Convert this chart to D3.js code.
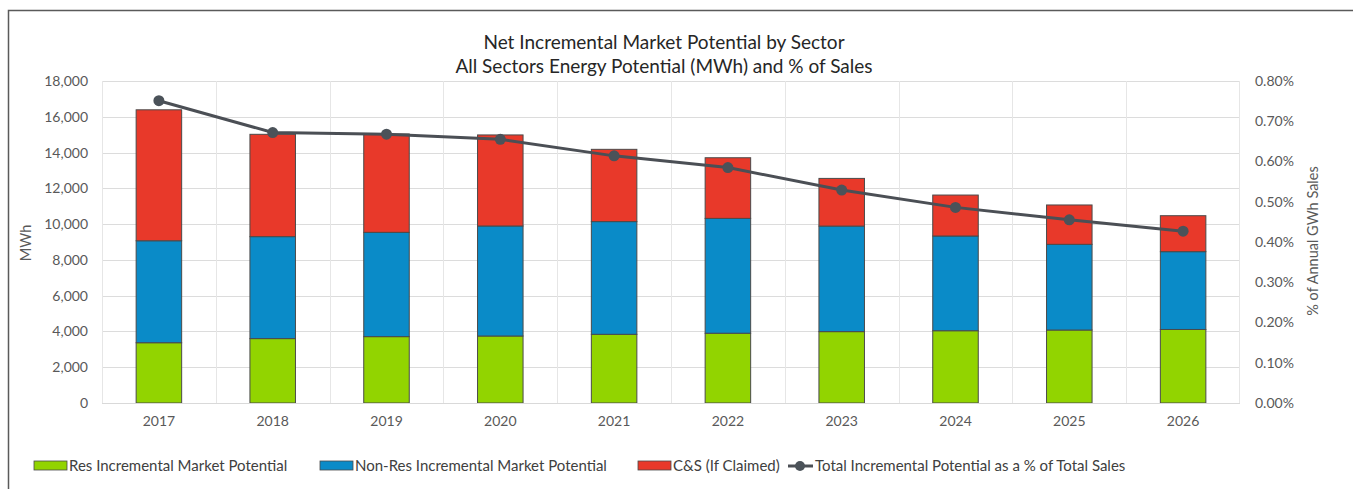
<!DOCTYPE html>
<html>
<head>
<meta charset="utf-8">
<script src="https://cdn.jsdelivr.net/npm/d3@7"></script>
<style>
  body { margin: 0; background: #fff; }
  svg text { font-family: Lato, "Open Sans", sans-serif; }
</style>
</head>
<body>
<div class="chart"></div>
<script>
// data
var years = ["2017", "2018", "2019", "2020", "2021", "2022", "2023", "2024", "2025", "2026"];
var resPotential = [3370, 3600, 3710, 3745, 3840, 3900, 3990, 4040, 4080, 4110];
var nonResPotential = [5700, 5700, 5830, 6150, 6300, 6420, 5900, 5295, 4790, 4350];
var csPotential = [7320, 5720, 5500, 5090, 4040, 3390, 2665, 2290, 2200, 2010];
var pctOfSales = [0.751, 0.672, 0.668, 0.655, 0.614, 0.585, 0.529, 0.486, 0.455, 0.427];
var leftTicks = [0, 2000, 4000, 6000, 8000, 10000, 12000, 14000, 16000, 18000];
var rightTicks = [0, 0.1, 0.2, 0.3, 0.4, 0.5, 0.6, 0.7, 0.8];
var seriesNames = ["Res Incremental Market Potential", "Non-Res Incremental Market Potential", "C&S (If Claimed)"];
var lineName = "Total Incremental Potential as a % of Total Sales";

var W = 1353, H = 489;
var margin = {top: 81, left: 102, right: 113, bottom: 86};
var width = W - margin.left - margin.right;
var height = H - margin.top - margin.bottom;
var colors = ["#92d400", "#0a8bc8", "#e8392a"];
var textGray = "#595959";

var svg = d3.select(".chart").append("svg")
    .attr("width", W)
    .attr("height", H);

// outer frame (clipped by the window on right and bottom)
svg.append("rect")
  .attr("x", 8.5).attr("y", 10.5)
  .attr("width", W + 20).attr("height", H + 20)
  .style("fill", "none")
  .style("stroke", "#5a5a5a")
  .style("stroke-width", 1.5);

var g = svg.append("g")
    .attr("transform", "translate(" + margin.left + "," + margin.top + ")");

var x = d3.scaleBand().domain(years).range([0, width]).paddingInner(0.6).paddingOuter(0.3);
var xBound = d3.scaleBand().domain(years).range([0, width]);
var y = d3.scaleLinear().domain([0, 18000]).range([height, 0]);
var y2 = d3.scaleLinear().domain([0, 0.8]).range([height, 0]);

// grid
g.append("g").selectAll("line").data(leftTicks).join("line")
  .attr("x1", 0).attr("x2", width)
  .attr("y1", d => Math.round(y(d)) + 0.5).attr("y2", d => Math.round(y(d)) + 0.5)
  .style("stroke", "#dcdcdc");
g.append("g").selectAll("line").data(years).join("line")
  .attr("x1", d => Math.round(xBound(d)) + 0.5).attr("x2", d => Math.round(xBound(d)) + 0.5)
  .attr("y1", 0).attr("y2", height)
  .style("stroke", "#e6e6e6");
g.append("line")
  .attr("x1", width - 0.5).attr("x2", width - 0.5)
  .attr("y1", 0).attr("y2", height)
  .style("stroke", "#e6e6e6");

// stacked bars
var rows = years.map((yr, i) => ({year: yr, res: resPotential[i], nonres: nonResPotential[i], cs: csPotential[i]}));
var stack = d3.stack().keys(["res", "nonres", "cs"])(rows);

g.append("g").selectAll("g").data(stack).join("g")
    .style("fill", (d, i) => colors[i])
  .selectAll("rect").data(d => d).join("rect")
    .attr("x", d => x(d.data.year))
    .attr("y", d => y(d[1]))
    .attr("width", x.bandwidth())
    .attr("height", d => y(d[0]) - y(d[1]))
    .style("stroke", "#4a4a4a")
    .style("stroke-width", 1);

// line on the secondary axis
var line = d3.line()
  .x((d, i) => x(years[i]) + x.bandwidth() / 2)
  .y(d => y2(d));

g.append("path")
  .attr("d", line(pctOfSales))
  .style("fill", "none")
  .style("stroke", "#4b4f55")
  .style("stroke-width", 3);

g.append("g").selectAll("circle").data(pctOfSales).join("circle")
  .attr("cx", (d, i) => x(years[i]) + x.bandwidth() / 2)
  .attr("cy", d => y2(d))
  .attr("r", 5.5)
  .style("fill", "#4b5259");

// axes
var axisLeft = g.append("g")
  .call(d3.axisLeft(y).tickValues(leftTicks).tickSize(0).tickPadding(14).tickFormat(d3.format(",")));
var axisRight = g.append("g")
  .attr("transform", "translate(" + width + ",0)")
  .call(d3.axisRight(y2).tickValues(rightTicks).tickSize(0).tickPadding(15).tickFormat(d => d.toFixed(2) + "%"));
var axisBottom = g.append("g")
  .attr("transform", "translate(0," + height + ")")
  .call(d3.axisBottom(x).tickSize(0).tickPadding(13));

[axisLeft, axisRight, axisBottom].forEach(a => {
  a.select(".domain").remove();
  a.selectAll("text").style("font-size", "14px").style("fill", textGray);
});
g.append("line")
  .attr("x1", 0).attr("x2", width)
  .attr("y1", height + 0.5).attr("y2", height + 0.5)
  .style("stroke", "#d9d9d9");

// axis titles
svg.append("text")
  .attr("transform", "translate(31," + (margin.top + height / 2 + 1) + ") rotate(-90)")
  .attr("text-anchor", "middle")
  .style("font-size", "14.5px")
  .style("fill", textGray)
  .text("MWh");

svg.append("text")
  .attr("transform", "translate(1318," + (margin.top + height / 2 - 1) + ") rotate(-90)")
  .attr("text-anchor", "middle")
  .style("font-size", "14.5px")
  .style("fill", textGray)
  .text("% of Annual GWh Sales");

// title
var title = svg.append("text")
  .attr("text-anchor", "middle")
  .style("font-size", "19px")
  .style("fill", "#262626");
title.append("tspan").attr("x", 664).attr("y", 49).text("Net Incremental Market Potential by Sector");
title.append("tspan").attr("x", 664).attr("y", 73).text("All Sectors Energy Potential (MWh) and % of Sales");

// legend
var legendY = 466;
var legendX = [34, 320, 638];
var legend = svg.append("g");
seriesNames.forEach((name, i) => {
  legend.append("rect")
    .attr("x", legendX[i]).attr("y", legendY - 5)
    .attr("width", 33).attr("height", 9)
    .style("fill", colors[i])
    .style("stroke", "#4a4a4a")
    .style("stroke-width", 0.8);
  legend.append("text")
    .attr("x", legendX[i] + 35).attr("y", legendY + 5)
    .style("font-size", "15px")
    .style("fill", "#404040")
    .text(name);
});
legend.append("line")
  .attr("x1", 788).attr("x2", 813)
  .attr("y1", legendY).attr("y2", legendY)
  .style("stroke", "#4b4f55").style("stroke-width", 3);
legend.append("circle")
  .attr("cx", 800).attr("cy", legendY).attr("r", 5)
  .style("fill", "#4b5259");
legend.append("text")
  .attr("x", 815).attr("y", legendY + 5)
  .style("font-size", "15px")
  .style("fill", "#404040")
  .text(lineName);
</script>
</body>
</html>
